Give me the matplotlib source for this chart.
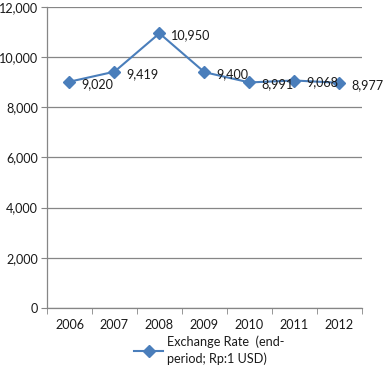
import numpy as np
import matplotlib
matplotlib.use('Agg')
import matplotlib.pyplot as plt
from matplotlib.ticker import FuncFormatter

# data
years = ['2006', '2007', '2008', '2009', '2010', '2011', '2012']
rate = [9020, 9419, 10950, 9400, 8991, 9068, 8977]
series_name = 'Exchange Rate  (end-\nperiod; Rp:1 USD)'

plt.rcParams['font.family'] = ['Lato', 'DejaVu Sans']
fs = 9.1

blue = '#4a7ebb'
grey = '#868686'

fig = plt.figure(figsize=(3.85, 3.67), dpi=100)
ax = fig.add_axes([0.122, 0.161, 0.818, 0.820])

x = np.arange(len(years))
ax.plot(x, rate, color=blue, lw=1.5, marker='D', ms=6.5,
        markeredgecolor=blue, label=series_name, zorder=3)

for xi, v in zip(x, rate):
    ax.annotate('{:,}'.format(v), (xi, v), xytext=(8.5, -1.5),
                textcoords='offset points', ha='left', va='center',
                fontsize=fs, color='#1a1a1a', zorder=4)

ax.set_xlim(-0.5, len(years) - 0.5)
ax.set_ylim(0, 12000)
ax.set_yticks(np.arange(0, 12001, 2000))
ax.yaxis.set_major_formatter(FuncFormatter(lambda v, p: '{:,}'.format(int(v))))
ax.set_xticks(x)
ax.set_xticklabels(years)
ax.set_xticks(np.arange(-0.5, len(years)), minor=True)
ax.tick_params(axis='x', which='major', length=0, pad=8, colors='#1a1a1a', labelsize=fs)
ax.tick_params(axis='x', which='minor', length=4, color=grey, direction='out')
ax.tick_params(axis='y', length=4, pad=2.5, colors='#1a1a1a', labelsize=fs)
ax.tick_params(axis='y', color=grey)

ax.grid(axis='y', color=grey, lw=0.9)
ax.set_axisbelow(True)
for s in ['top', 'right']:
    ax.spines[s].set_visible(False)
for s in ['left', 'bottom']:
    ax.spines[s].set_color(grey)
    ax.spines[s].set_linewidth(0.9)

leg = fig.legend(loc='upper left', bbox_to_anchor=(0.335, 0.1), frameon=False,
                 handlelength=2.3, handletextpad=0.3, borderaxespad=0,
                 fontsize=fs, labelspacing=0)
for t in leg.get_texts():
    t.set_color('#1a1a1a')
    t.set_linespacing(1.4)

fig.savefig('out.png', dpi=100)
